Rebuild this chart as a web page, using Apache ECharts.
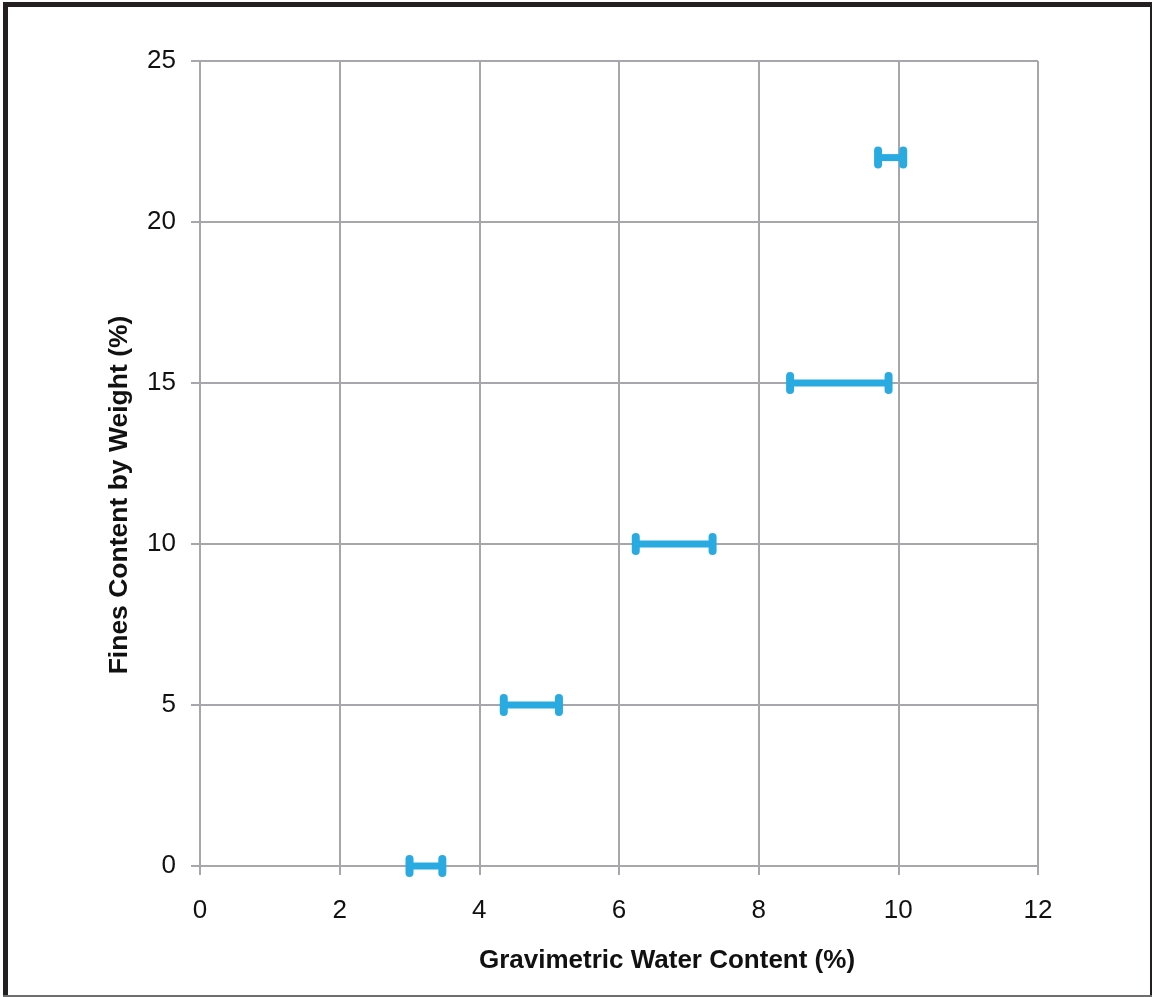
<!DOCTYPE html>
<html>
<head>
<meta charset="utf-8">
<style>
  html, body { margin: 0; padding: 0; background: #fff; }
  #chart { width: 1152px; height: 997px; }
</style>
<script src="https://cdn.jsdelivr.net/npm/echarts@6/dist/echarts.min.js"></script>
</head>
<body>
<div id="chart"></div>
<script>
// Data
const finesContent = [0, 5, 10, 15, 22];          // y (%)
const waterLow     = [3.0, 4.35, 6.24, 8.45, 9.71];  // x range start (%)
const waterHigh    = [3.47, 5.14, 7.34, 9.86, 10.07]; // x range end (%)
const xTitle = 'Gravimetric Water Content (%)';
const yTitle = 'Fines Content by Weight (%)';

const rows = finesContent.map((y, i) => [y, waterLow[i], waterHigh[i]]);

const FONT = '"Liberation Sans", Arial, Helvetica, sans-serif';
const GRID_COLOR = '#a7a7ab';
const BAR_COLOR = '#29abe2';

const chart = echarts.init(document.getElementById('chart'), null, { renderer: 'canvas' });

chart.setOption({
  animation: false,
  backgroundColor: '#ffffff',
  grid: { left: 200, right: 114, top: 61, bottom: 131, containLabel: false },
  xAxis: {
    type: 'value', min: 0, max: 12, interval: 2,
    axisLine: { show: true, lineStyle: { color: GRID_COLOR, width: 2 } },
    axisTick: { show: true, length: 9, lineStyle: { color: GRID_COLOR, width: 2 } },
    axisLabel: { color: '#111', fontFamily: FONT, fontSize: 26, margin: 32 },
    splitLine: { show: true, lineStyle: { color: GRID_COLOR, width: 2 } }
  },
  yAxis: {
    type: 'value', min: 0, max: 25, interval: 5,
    axisLine: { show: true, lineStyle: { color: GRID_COLOR, width: 2 } },
    axisTick: { show: true, length: 9, lineStyle: { color: GRID_COLOR, width: 2 } },
    axisLabel: { color: '#111', fontFamily: FONT, fontSize: 26, margin: 24, padding: [4, 0, 0, 0] },
    splitLine: { show: true, lineStyle: { color: GRID_COLOR, width: 2 } }
  },
  graphic: [
    { type: 'text', silent: true, x: 667, y: 961,
      style: { text: xTitle, fill: '#111', font: 'bold 26px ' + FONT, textAlign: 'center', textVerticalAlign: 'middle' } },
    { type: 'text', silent: true, x: 120, y: 495, rotation: Math.PI / 2,
      style: { text: yTitle, fill: '#111', font: 'bold 26.5px ' + FONT, textAlign: 'center', textVerticalAlign: 'middle' } },
    // frame
    { type: 'rect', silent: true, shape: { x: 3, y: 2, width: 1149, height: 5 }, style: { fill: '#231f20' } },
    { type: 'rect', silent: true, shape: { x: 3, y: 2, width: 5, height: 995 }, style: { fill: '#231f20' } },
    { type: 'rect', silent: true, shape: { x: 1150, y: 2, width: 2, height: 995 }, style: { fill: '#231f20' } },
    { type: 'rect', silent: true, shape: { x: 3, y: 995, width: 1149, height: 2 }, style: { fill: '#6d6d6d' } }
  ],
  series: [{
    type: 'custom',
    data: rows,
    encode: { x: [1, 2], y: 0 },
    renderItem: function (params, api) {
      const y = api.value(0);
      const p1 = api.coord([api.value(1), y]);
      const p2 = api.coord([api.value(2), y]);
      const half = 7;
      const bar = { stroke: BAR_COLOR, lineWidth: 7, lineCap: 'butt' };
      const cap = { stroke: BAR_COLOR, lineWidth: 8, lineCap: 'round' };
      return {
        type: 'group',
        children: [
          { type: 'line', shape: { x1: p1[0], y1: p1[1], x2: p2[0], y2: p2[1] }, style: bar },
          { type: 'line', shape: { x1: p1[0], y1: p1[1] - half, x2: p1[0], y2: p1[1] + half }, style: cap },
          { type: 'line', shape: { x1: p2[0], y1: p2[1] - half, x2: p2[0], y2: p2[1] + half }, style: cap }
        ]
      };
    }
  }]
});
</script>
</body>
</html>
